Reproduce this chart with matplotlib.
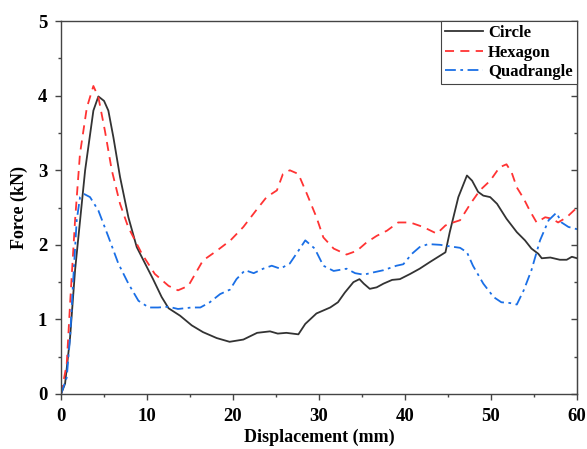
import matplotlib.pyplot as plt
from matplotlib.ticker import MultipleLocator

# --- Data ---
circle_x = [0, 0.47, 1.05, 1.63, 2.8, 3.76, 4.34, 5.0, 5.5, 6.09, 6.86, 7.83, 8.8, 9.77,
            10.7, 11.7, 12.5, 13.84, 15.2, 16.5, 18.1, 19.6, 21.2, 22.8, 24.3, 25.2, 26.2,
            27.6, 28.4, 29.7, 31.3, 32.2, 33.0, 34.0, 34.7, 35.2, 35.9, 36.7, 37.5, 38.5,
            39.4, 40.6, 41.7, 42.9, 44.7, 45.2, 46.2, 47.2, 47.8, 48.5, 49.1, 49.9, 50.7,
            51.8, 53.0, 53.95, 54.7, 55.5, 55.9, 56.9, 58.0, 58.8, 59.4, 60]
circle_y = [0, 0.14, 0.76, 1.66, 3.0, 3.80, 3.99, 3.93, 3.80, 3.44, 2.91, 2.37, 1.97, 1.75,
            1.54, 1.30, 1.15, 1.05, 0.92, 0.83, 0.75, 0.70, 0.73, 0.82, 0.84, 0.81, 0.82,
            0.80, 0.94, 1.08, 1.16, 1.23, 1.36, 1.50, 1.54, 1.48, 1.41, 1.43, 1.48, 1.53,
            1.54, 1.61, 1.68, 1.77, 1.90, 2.17, 2.64, 2.93, 2.86, 2.71, 2.66, 2.64, 2.55,
            2.35, 2.17, 2.06, 1.95, 1.88, 1.82, 1.83, 1.80, 1.80, 1.84, 1.82]

hexagon_x = [0, 0.66, 1.05, 1.63, 2.2, 3.0, 3.76, 4.34, 5.1, 5.9, 6.86, 7.8, 9.4, 10.9,
             12.5, 13.6, 14.8, 16.5, 18.1, 19.7, 21.2, 22.8, 23.9, 25.1, 25.8, 26.6, 27.6,
             28.6, 29.7, 30.5, 31.7, 33.2, 34.4, 35.5, 36.7, 37.9, 39.2, 40.6, 42.1, 43.7,
             44.7, 45.6, 46.4, 47.6, 48.7, 49.9, 51.0, 51.8, 52.4, 53.0, 53.8, 54.5, 55.3,
             56.3, 57.1, 57.8, 58.8, 60]
hexagon_y = [0, 0.40, 1.21, 2.33, 3.22, 3.84, 4.13, 3.98, 3.53, 3.0, 2.55, 2.24, 1.88, 1.61,
             1.45, 1.39, 1.45, 1.79, 1.92, 2.06, 2.24, 2.48, 2.64, 2.73, 2.95, 3.0, 2.95,
             2.68, 2.37, 2.10, 1.95, 1.87, 1.92, 2.03, 2.12, 2.19, 2.30, 2.30, 2.24, 2.15,
             2.26, 2.30, 2.33, 2.55, 2.73, 2.86, 3.04, 3.08, 2.97, 2.77, 2.62, 2.46, 2.30,
             2.37, 2.35, 2.30, 2.37, 2.50]

quad_x = [0, 0.66, 1.05, 1.43, 1.82, 2.21, 2.71, 3.37, 4.34, 5.5, 6.66, 7.83, 9.0, 10.2,
          11.3, 12.5, 13.6, 15.2, 16.2, 17.3, 18.5, 19.65, 20.4, 21.4, 22.4, 23.5, 24.5,
          25.5, 26.6, 27.6, 28.4, 29.5, 30.5, 31.7, 33.2, 34.2, 35.2, 36.3, 37.5, 39.0,
          39.8, 40.8, 41.7, 42.7, 44.1, 45.2, 46.4, 47.2, 47.9, 49.1, 50.3, 51.2, 52.2,
          53.0, 53.8, 54.7, 55.7, 56.7, 57.6, 58.2, 59.0, 60]
quad_y = [0, 0.22, 0.76, 1.56, 2.33, 2.64, 2.68, 2.64, 2.46, 2.11, 1.75, 1.48, 1.25, 1.16,
          1.16, 1.17, 1.14, 1.16, 1.16, 1.23, 1.34, 1.40, 1.54, 1.66, 1.62, 1.68, 1.72,
          1.68, 1.75, 1.92, 2.06, 1.95, 1.72, 1.65, 1.68, 1.62, 1.60, 1.63, 1.66, 1.72,
          1.74, 1.88, 1.97, 2.01, 2.00, 1.98, 1.96, 1.90, 1.72, 1.48, 1.30, 1.23, 1.22,
          1.20, 1.39, 1.66, 2.06, 2.33, 2.43, 2.30, 2.24, 2.21]

plt.rcParams['font.family'] = ['Liberation Serif', 'DejaVu Serif']
plt.rcParams['font.weight'] = 'bold'

fig = plt.figure(figsize=(5.87, 4.49), dpi=100)
ax = fig.add_axes([0.104, 0.1225, 0.879, 0.8305])

ax.plot(circle_x, circle_y, color='#333333', lw=1.3, ls='-', label='Circle')
ax.plot(hexagon_x, hexagon_y, color='#ff3333', lw=1.3, ls=(0, (5, 3.5)), label='Hexagon')
ax.plot(quad_x, quad_y, color='#1a6fe6', lw=1.3, ls=(0, (6, 2.5, 1.5, 2.5)), label='Quadrangle')

ax.set_xlim(0, 60)
ax.set_ylim(0, 5)
ax.xaxis.set_major_locator(MultipleLocator(10))
ax.xaxis.set_minor_locator(MultipleLocator(5))
ax.yaxis.set_major_locator(MultipleLocator(1))
ax.yaxis.set_minor_locator(MultipleLocator(0.5))

for s in ax.spines.values():
    s.set_color('#444444')
    s.set_linewidth(1.0)

ax.tick_params(which='major', direction='out', length=4, width=1, color='#444444',
               labelsize=13.5, pad=6)
ax.tick_params(which='minor', direction='out', length=2.5, width=1, color='#444444')

# inward ticks on the right side, no labels
sec = ax.secondary_yaxis('right')
sec.yaxis.set_major_locator(MultipleLocator(1))
sec.yaxis.set_minor_locator(MultipleLocator(0.5))
sec.tick_params(which='major', direction='in', length=4, width=1, color='#444444', labelright=False)
sec.tick_params(which='minor', direction='in', length=2.5, width=1, color='#444444')
sec.spines['right'].set_color('#444444')

for lbl in ax.get_xticklabels() + ax.get_yticklabels():
    lbl.set_fontweight('bold')

ax.set_xlabel('Displacement (mm)', fontsize=13, fontweight='bold', va='center')
ax.set_ylabel('Force (kN)', fontsize=13, fontweight='bold', va='center')
ax.xaxis.set_label_coords(0.5, -0.115)
ax.yaxis.set_label_coords(-0.08, 0.5)

leg = ax.legend(loc='upper right', borderaxespad=0, fancybox=False, framealpha=1,
                edgecolor='#444444', prop={'size': 12, 'weight': 'bold'},
                handlelength=2.3, handletextpad=0.3, labelspacing=0.2,
                borderpad=0.25)
leg.get_frame().set_linewidth(0.8)

fig.savefig('out.png', dpi=100)
